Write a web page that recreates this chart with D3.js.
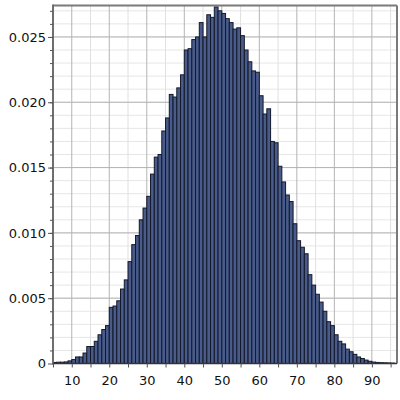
<!DOCTYPE html>
<html>
<head>
<meta charset="utf-8">
<script src="https://cdn.jsdelivr.net/npm/d3@7"></script>
<style>
	body { margin: 0; background: #fff; }
	svg { display: block; }
	.axis text { font-family: 'DejaVu Sans', Verdana, sans-serif; font-size: 13px; fill: #111; }
	.axis line { stroke: #555; }
	.axis path { display: none; }
	.bar { fill: #485b8a; stroke: #131829; stroke-width: 1; }
</style>
</head>
<body>
<svg width="400" height="400"></svg>
<script>
// one bar per unit bin, bin starts at the value below
const binStarts = [
	5, 6, 7, 8, 9, 10, 11, 12, 13, 14, 15, 16, 17, 18, 19, 20, 21, 22, 23, 24,
	25, 26, 27, 28, 29, 30, 31, 32, 33, 34, 35, 36, 37, 38, 39, 40, 41, 42, 43, 44,
	45, 46, 47, 48, 49, 50, 51, 52, 53, 54, 55, 56, 57, 58, 59, 60, 61, 62, 63, 64,
	65, 66, 67, 68, 69, 70, 71, 72, 73, 74, 75, 76, 77, 78, 79, 80, 81, 82, 83, 84,
	85, 86, 87, 88, 89, 90, 91, 92, 93, 94, 95
];
const densities = [
	0.00008, 0.0001, 0.0001, 0.00012, 0.0002, 0.0003, 0.0005, 0.0005, 0.0008, 0.0013,
	0.0013, 0.0017, 0.0022, 0.0026, 0.0029, 0.0043, 0.0044, 0.0048, 0.0057, 0.0064,
	0.0078, 0.0091, 0.0098, 0.0110, 0.0119, 0.0128, 0.0145, 0.0158, 0.0160, 0.0178,
	0.0188, 0.0206, 0.0204, 0.0211, 0.0221, 0.0240, 0.0241, 0.0248, 0.0250, 0.0261,
	0.0250, 0.0267, 0.0265, 0.0273, 0.0270, 0.0268, 0.0264, 0.0261, 0.0256, 0.0257,
	0.0251, 0.0240, 0.0231, 0.0224, 0.0223, 0.0205, 0.0191, 0.0195, 0.0170, 0.0169,
	0.0151, 0.0139, 0.0129, 0.0124, 0.0107, 0.0094, 0.0089, 0.0084, 0.0068, 0.0060,
	0.0053, 0.0047, 0.0040, 0.0032, 0.0029, 0.0022, 0.0017, 0.0015, 0.0011, 0.0009,
	0.0007, 0.0005, 0.00038, 0.00026, 0.00017, 0.00011, 0.00008, 0.00006, 0.00005, 0.00004,
	0.00003
];
const xTickValues = [5, 10, 15, 20, 25, 30, 35, 40, 45, 50, 55, 60, 65, 70, 75, 80, 85, 90, 95];
const xTickLabels = [10, 20, 30, 40, 50, 60, 70, 80, 90];
const yTickValues = [0, 0.005, 0.010, 0.015, 0.020, 0.025];
const yTickLabels = ['0', '0.005', '0.010', '0.015', '0.020', '0.025'];

function init() {
	const svg = d3.select('svg');
	const margin = {top: 5.6, right: 3, bottom: 36.5, left: 53};
	const width = Number(svg.attr('width')) - margin.left - margin.right;
	const height = Number(svg.attr('height')) - margin.top - margin.bottom;
	const binWidth = 1;

	const data = binStarts.map((s, i) => {
		return {start: s, value: densities[i]};
	});

	const x = d3.scaleLinear().domain([5, 96.7]).range([0, width]);
	const y = d3.scaleLinear().domain([0, 0.0274]).range([height, 0]);

	const g = svg.append('g')
		.attr('transform', 'translate(' + margin.left + ',' + margin.top + ')');

	// grid: minor first, major on top
	const minorY = d3.range(0.001, 0.0274, 0.001);
	const minorX = xTickValues.filter(d => {
		return !xTickLabels.includes(d);
	});

	g.append('g').selectAll('line')
		.data(minorY)
		.join('line')
		.attr('x1', 0)
		.attr('x2', width)
		.attr('y1', d => y(d))
		.attr('y2', d => y(d))
		.attr('stroke', '#e6e6e6');

	g.append('g').selectAll('line')
		.data(minorX)
		.join('line')
		.attr('x1', d => x(d))
		.attr('x2', d => x(d))
		.attr('y1', 0)
		.attr('y2', height)
		.attr('stroke', '#e0e0e0');

	g.append('g').selectAll('line')
		.data(yTickValues.slice(1))
		.join('line')
		.attr('x1', 0)
		.attr('x2', width)
		.attr('y1', d => y(d))
		.attr('y2', d => y(d))
		.attr('stroke', '#b4b4b4');

	g.append('g').selectAll('line')
		.data(xTickLabels)
		.join('line')
		.attr('x1', d => x(d))
		.attr('x2', d => x(d))
		.attr('y1', 0)
		.attr('y2', height)
		.attr('stroke', '#b4b4b4');

	g.append('g').selectAll('rect')
		.data(data)
		.join('rect')
		.attr('class', 'bar')
		.attr('x', d => x(d.start))
		.attr('width', d => x(d.start + binWidth) - x(d.start))
		.attr('y', d => y(d.value))
		.attr('height', d => height - y(d.value));

	// frame
	g.append('line')
		.attr('x1', 0).attr('x2', width)
		.attr('y1', 0).attr('y2', 0)
		.attr('stroke', '#7a7a7a').attr('stroke-width', 2);
	g.append('line')
		.attr('x1', width).attr('x2', width)
		.attr('y1', 0).attr('y2', height)
		.attr('stroke', '#7a7a7a').attr('stroke-width', 2);
	g.append('line')
		.attr('x1', 0).attr('x2', 0)
		.attr('y1', -1).attr('y2', height + 1)
		.attr('stroke', '#6e6e6e').attr('stroke-width', 2);
	g.append('line')
		.attr('x1', 0).attr('x2', width)
		.attr('y1', height).attr('y2', height)
		.attr('stroke', '#333').attr('stroke-width', 1.5);

	g.append('g')
		.attr('class', 'axis axis--x')
		.attr('transform', 'translate(0,' + height + ')')
		.call(d3.axisBottom(x)
			.tickValues(xTickValues)
			.tickSize(4)
			.tickPadding(8)
			.tickFormat(d => {
				return xTickLabels.includes(d) ? d : '';
			}));

	g.append('g')
		.attr('class', 'axis axis--y-minor')
		.call(d3.axisLeft(y)
			.tickValues(minorY)
			.tickSize(3)
			.tickFormat(''));

	g.append('g')
		.attr('class', 'axis axis--y')
		.call(d3.axisLeft(y)
			.tickValues(yTickValues)
			.tickSize(5)
			.tickPadding(2)
			.tickFormat((d, i) => {
				return yTickLabels[i];
			}));
}

init();
</script>
</body>
</html>
